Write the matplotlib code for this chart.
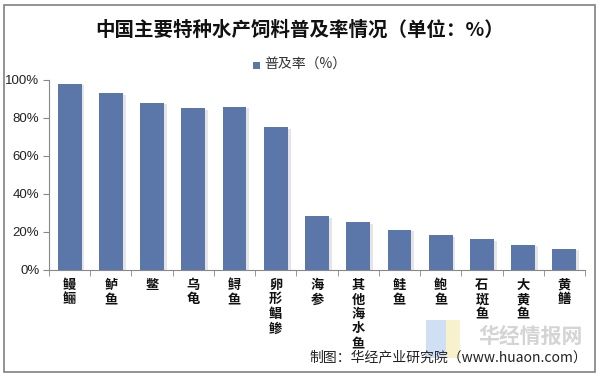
import matplotlib
matplotlib.use("Agg")
import matplotlib.pyplot as plt
from matplotlib.patches import Rectangle
from matplotlib.ticker import FuncFormatter, MultipleLocator
import matplotlib.patheffects as pe

plt.rcParams['font.family'] = ['Noto Sans CJK SC', 'DejaVu Sans']

categories = ["鳗鲡", "鲈鱼", "鳖", "乌龟", "鲟鱼", "卵形鲳鲹", "海参",
              "其他海水鱼", "鲑鱼", "鲍鱼", "石斑鱼", "大黄鱼", "黄鳝"]
values = [98, 93, 88, 85, 86, 75, 28, 25, 21, 18, 16, 13, 11]
series_name = "普及率（%）"
title = "中国主要特种水产饲料普及率情况（单位：%）"
source = "制图：华经产业研究院（www.huaon.com）"

bar_color = "#5b77a9"

fig = plt.figure(figsize=(6.0, 3.77), dpi=100)
fig.patch.set_facecolor("white")

# outer frame
fig.add_artist(Rectangle((4/600, 1-372/377), 591/600, 367/377, transform=fig.transFigure,
                         fill=False, edgecolor="#808080", linewidth=1.2))

# watermark (behind everything)
fig.add_artist(Rectangle((426/600, 1-358/377), 20/600, 38/377, transform=fig.transFigure,
                         facecolor="#bcd3f0", edgecolor='none', alpha=0.7, zorder=0))
fig.add_artist(Rectangle((446/600, 1-358/377), 14/600, 38/377, transform=fig.transFigure,
                         facecolor="#f5ecb8", edgecolor='none', alpha=0.7, zorder=0))
fig.text(531/600, 1-336/377, "华经情报网", ha='center', va='center', fontsize=15,
         fontweight='bold', color="#d4d4d4", zorder=0)

ax = fig.add_axes([49/600, 1-269.5/377, 536/600, 189.5/377])
ax.patch.set_alpha(0)
x = list(range(len(categories)))
bars = ax.bar(x, values, width=0.58, color=bar_color, zorder=3,
              path_effects=[pe.SimplePatchShadow(offset=(2, -1), shadow_rgbFace="#aaaaaa", alpha=0.3),
                            pe.Normal()])

ax.set_xlim(-0.5, len(categories) - 0.5)
ax.set_ylim(0, 100)
ax.yaxis.set_major_locator(MultipleLocator(20))
ax.yaxis.set_major_formatter(FuncFormatter(lambda v, p: f"{int(v)}%"))
for lab in ax.get_yticklabels():
    lab.set_family(['Liberation Sans', 'DejaVu Sans'])
ax.tick_params(axis='y', labelsize=9.5, length=4, color="#888888", pad=3, labelcolor="#222222")

ax.set_xticks(x)
ax.set_xticklabels(["\n".join(c) for c in categories], fontsize=9.5, fontweight='bold',
                   va='top', linespacing=1.05, color="#111111")
ax.set_xticks([i + 0.5 for i in range(-1, len(categories))], minor=True)
ax.tick_params(axis='x', which='major', length=0, pad=6)
ax.tick_params(axis='x', which='minor', length=4, color="#888888")

for s in ["top", "right"]:
    ax.spines[s].set_visible(False)
ax.spines["left"].set_color("#888888")
ax.spines["bottom"].set_color("#888888")

fig.text(0.5, 1-30/377, title, ha='center', va='center', fontsize=14, fontweight='bold', color="#111111")

# legend
fig.add_artist(Rectangle((253/600, 1-69/377), 7/600, 7/377, transform=fig.transFigure,
                         facecolor=bar_color, edgecolor='none'))
fig.text(264/600, 1-65/377, series_name, ha='left', va='center', fontsize=10, color="#333333")

fig.text(587/600, 1-357/377, source, ha='right', va='center', fontsize=10, color="#222222")

fig.savefig("out.png", dpi=100, facecolor="white")
